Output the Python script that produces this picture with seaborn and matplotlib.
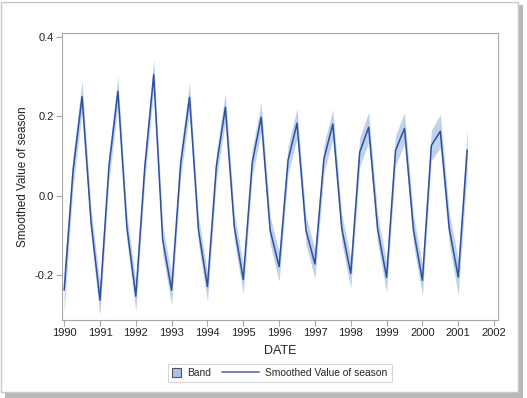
import numpy as np
import pandas as pd
import matplotlib
matplotlib.use('Agg')
import matplotlib.pyplot as plt
import seaborn as sns
from matplotlib.patches import Rectangle, Patch
from matplotlib.lines import Line2D

# quarterly dates (decimal years) 1990Q1 .. 2001Q2
dates = [1990.0, 1990.25, 1990.5, 1990.75,
         1991.0, 1991.25, 1991.5, 1991.75,
         1992.0, 1992.25, 1992.5, 1992.75,
         1993.0, 1993.25, 1993.5, 1993.75,
         1994.0, 1994.25, 1994.5, 1994.75,
         1995.0, 1995.25, 1995.5, 1995.75,
         1996.0, 1996.25, 1996.5, 1996.75,
         1997.0, 1997.25, 1997.5, 1997.75,
         1998.0, 1998.25, 1998.5, 1998.75,
         1999.0, 1999.25, 1999.5, 1999.75,
         2000.0, 2000.25, 2000.5, 2000.75,
         2001.0, 2001.25]

season = [-0.237, 0.065, 0.250, -0.065,
          -0.262, 0.074, 0.263, -0.078,
          -0.252, 0.072, 0.305, -0.110,
          -0.237, 0.080, 0.248, -0.086,
          -0.228, 0.076, 0.223, -0.078,
          -0.210, 0.084, 0.198, -0.086,
          -0.178, 0.090, 0.183, -0.086,
          -0.171, 0.093, 0.181, -0.082,
          -0.195, 0.110, 0.173, -0.083,
          -0.205, 0.115, 0.170, -0.085,
          -0.212, 0.127, 0.163, -0.082,
          -0.204, 0.116]

half_band = [0.055, 0.040, 0.040, 0.036,
             0.040, 0.035, 0.038, 0.035,
             0.038, 0.035, 0.038, 0.036,
             0.038, 0.035, 0.037, 0.035,
             0.037, 0.035, 0.036, 0.035,
             0.037, 0.035, 0.036, 0.035,
             0.037, 0.036, 0.037, 0.036,
             0.037, 0.036, 0.037, 0.036,
             0.038, 0.037, 0.038, 0.036,
             0.038, 0.038, 0.039, 0.037,
             0.039, 0.038, 0.042, 0.040,
             0.045, 0.055]

df = pd.DataFrame({'DATE': dates, 'season': season, 'hw': half_band})
df['lower'] = df['season'] - df['hw']
df['upper'] = df['season'] + df['hw']

line_col = '#2F4F9F'
band_col = '#A9C3E6'
grey = '#A8A8A8'


class SquareHandler:
    # small square at the left of the handle box
    def legend_artist(self, legend, orig_handle, fontsize, handlebox):
        h = handlebox.height
        sq = Rectangle((0, h / 2 - 3.2), 6.2, 6.2, facecolor=band_col,
                       edgecolor='#555555', lw=0.8)
        handlebox.add_artist(sq)
        return sq


class LongLineHandler:
    # line that reaches back into the column gap
    def legend_artist(self, legend, orig_handle, fontsize, handlebox):
        w, h = handlebox.width, handlebox.height
        ln = Line2D([w - 27, w], [h / 2, h / 2], color='#5a6ab8', lw=1.2)
        handlebox.add_artist(ln)
        return ln


sns.set_style('white')
plt.rcParams['font.family'] = ['Liberation Sans', 'DejaVu Sans']

fig = plt.figure(figsize=(5.27, 3.98), dpi=100)
W, H = 527., 398.

# picture frame with drop shadow
fig.patches.append(Rectangle((5 / W, 0), 518 / W, 393 / H, transform=fig.transFigure,
                             facecolor='#8a8a8a', edgecolor='none', alpha=0.6, zorder=0))
fig.patches.append(Rectangle((1 / W, 6 / H), 517 / W, 390 / H, transform=fig.transFigure,
                             facecolor='white', edgecolor='#c9c9c9', lw=1.0, zorder=1))

ax = fig.add_axes([62 / W, 1 - 320 / H, 436 / W, 287 / H])
ax.set_zorder(2)

ax.fill_between(df['DATE'], df['lower'], df['upper'], color=band_col, alpha=0.75,
                linewidth=0)
sns.lineplot(data=df, x='DATE', y='season', color=line_col, linewidth=1.1, ax=ax)

ax.set_xlim(1989.94, 2002.11)
ax.set_ylim(-0.312, 0.41)
ax.set_xticks(range(1990, 2003))
ax.set_yticks([-0.2, 0.0, 0.2, 0.4])
ax.set_yticklabels(['-0.2', '0.0', '0.2', '0.4'])

for s in ax.spines.values():
    s.set_color(grey)
    s.set_linewidth(0.8)
ax.tick_params(axis='both', which='both', length=4, width=0.8, color=grey,
               labelsize=8, labelcolor='#222222', direction='out',
               bottom=True, left=True, pad=2)
ax.set_xlabel('DATE', fontsize=9, color='#222222', labelpad=5)
ax.set_ylabel('Smoothed Value of season', fontsize=8.5, color='#222222', labelpad=4)

band_h = Patch(facecolor=band_col)
line_h = Line2D([], [], color='#5a6ab8')
leg = fig.legend([band_h, line_h], ['Band', 'Smoothed Value of season'], loc='center',
                 bbox_to_anchor=(280 / W, 1 - 373 / H), ncol=2, fontsize=7.4,
                 frameon=True, fancybox=False, handlelength=0.85,
                 columnspacing=3.8, handletextpad=0.6, borderpad=0.4,
                 handler_map={Patch: SquareHandler(), Line2D: LongLineHandler()})
leg.get_frame().set_edgecolor('#cccccc')
leg.get_frame().set_linewidth(0.8)
leg.set_zorder(3)

fig.savefig('out.png', dpi=100, facecolor='white')
